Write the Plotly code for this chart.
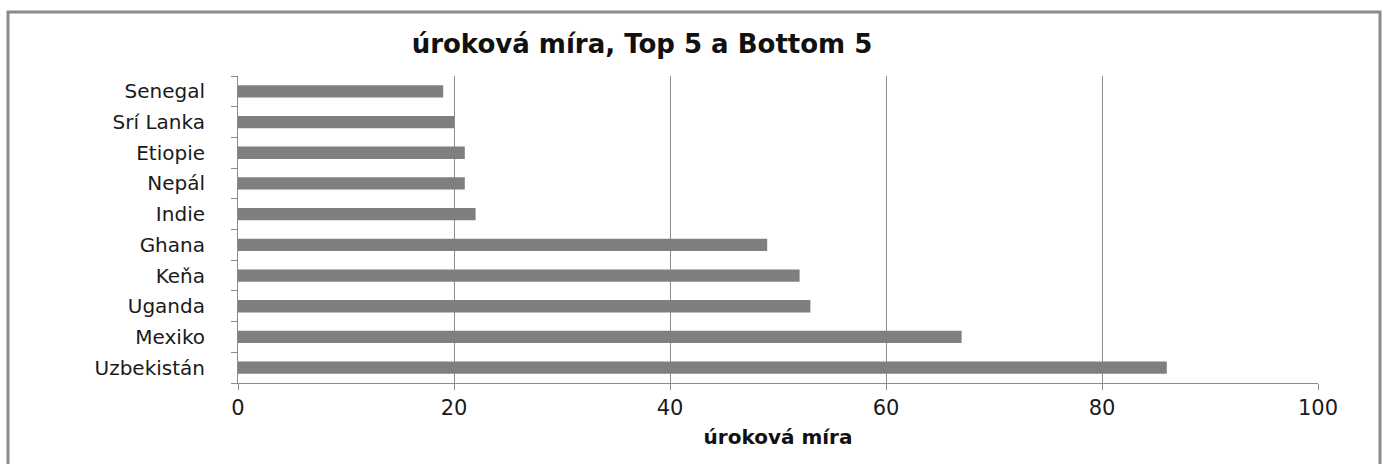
import plotly.graph_objects as go

countries = ["Uzbekistán", "Mexiko", "Uganda", "Keňa", "Ghana",
             "Indie", "Nepál", "Etiopie", "Srí Lanka", "Senegal"]
rates = [86, 67, 53, 52, 49, 22, 21, 21, 20, 19]
x_ticks = [0, 20, 40, 60, 80, 100]

title_text = "úroková míra, Top 5 a Bottom 5"
x_title = "úroková míra"

W, H = 1386, 464
ml, mr, mt, mb = 238, 68, 76, 81
pw, ph = W - ml - mr, H - mt - mb

fig = go.Figure(go.Bar(
    x=rates, y=countries, orientation="h",
    marker=dict(color="#7f7f7f", line=dict(width=0)),
))

grid = "#8c8c8c"
font_fam = "DejaVu Sans"

fig.update_layout(
    width=W, height=H,
    margin=dict(l=ml, r=mr, t=mt, b=mb),
    paper_bgcolor="white", plot_bgcolor="white",
    bargap=0.6,
    showlegend=False,
    font=dict(family=font_fam, color="#1a1a1a"),
    title=dict(text="<b>" + title_text + "</b>", xref="container", yref="container",
               x=642 / W, y=1 - 44 / H, xanchor="center", yanchor="middle",
               font=dict(size=26, family=font_fam, color="#111111")),
    xaxis=dict(range=[0, 100], tickvals=x_ticks, showgrid=True, gridcolor=grid,
               gridwidth=1, showline=True, linecolor=grid, linewidth=1,
               ticks="outside", ticklen=6, tickcolor=grid,
               tickfont=dict(size=21, family=font_fam, color="#1a1a1a"),
               zeroline=False,
               title=dict(text="<b>" + x_title + "</b>", standoff=10,
                          font=dict(size=20, family=font_fam, color="#111111"))),
    yaxis=dict(type="category", categoryorder="array", categoryarray=countries,
               showline=True, linecolor=grid, linewidth=1,
               ticks="outside", ticklen=6, tickcolor=grid, tickson="boundaries",
               showgrid=False, ticklabelstandoff=28,
               tickfont=dict(size=20, family=font_fam, color="#1a1a1a")),
)

# outer chart frame
fig.add_shape(type="rect", xref="paper", yref="paper",
              x0=(8 - ml) / pw, x1=(1380 - ml) / pw,
              y0=(H - mb - 480) / ph, y1=(H - mb - 12) / ph,
              line=dict(color="#8a8a8a", width=3), fillcolor="rgba(0,0,0,0)",
              layer="below")

fig.write_html("out.html")
